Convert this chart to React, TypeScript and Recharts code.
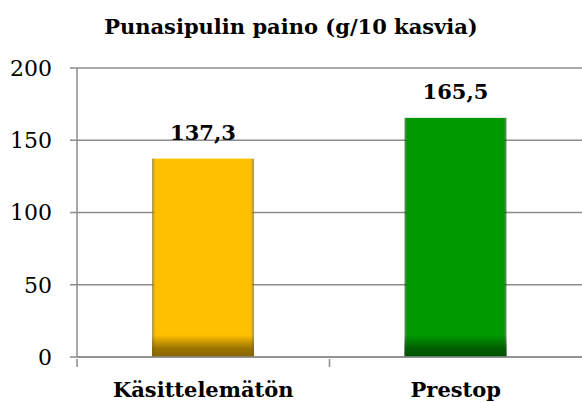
import { Bar, BarChart, CartesianGrid, LabelList, XAxis, YAxis } from "recharts";

const categories = ["Käsittelemätön", "Prestop"];
const weights = [137.3, 165.5];
const barColors = ["#FFC000", "#009A00"];
const shadeColors = ["#7A5A00", "#004A00"];
const yTicks = [0, 50, 100, 150, 200];

const data = categories.map((name, i) => ({ name, value: weights[i], idx: i }));

const FONT = "'DejaVu Serif', serif";
const GRID = "#8C8C8C";

function ShadedBar(props: any) {
  const { x, y, width, height, payload } = props;
  const i = payload.idx;
  const shadeH = Math.min(22, height);
  return (
    <g>
      <rect x={x} y={y} width={width} height={height} fill={`url(#side${i})`} />
      <rect x={x} y={y + height - shadeH} width={width} height={shadeH} fill={`url(#bottom${i})`} />
    </g>
  );
}

function CategoryTick(props: any) {
  const { x, y, payload } = props;
  const half = payload.offset ?? 0;
  return (
    <g>
      <line x1={x - half} x2={x - half} y1={y - 8} y2={y} stroke={GRID} strokeWidth={1.5} />
      <text x={x} y={y + 30} textAnchor="middle" fontFamily={FONT} fontWeight="bold" fontSize={21} fill="#000">
        {payload.value}
      </text>
    </g>
  );
}

function ValueLabel(props: any) {
  const { x, y, width, value } = props;
  return (
    <text x={x + width / 2} y={y - 19} textAnchor="middle" fontFamily={FONT} fontWeight="bold" fontSize={21} fill="#000">
      {String(value).replace(".", ",")}
    </text>
  );
}

export default function App() {
  return (
    <div style={{ position: "relative", width: 582, height: 402, background: "#fff" }}>
      <style>{`body{margin:0}`}</style>
      <div
        style={{
          position: "absolute",
          top: 14,
          left: 0,
          width: 582,
          textAlign: "center",
          fontFamily: FONT,
          fontWeight: "bold",
          fontSize: 21,
          color: "#000",
        }}
      >
        Punasipulin paino (g/10 kasvia)
      </div>
      <BarChart
        width={582}
        height={402}
        data={data}
        margin={{ top: 68, right: 0, left: 0, bottom: 15 }}
        barSize={102}
      >
        <defs>
          {barColors.map((c, i) => (
            <linearGradient key={`s${i}`} id={`side${i}`} x1="0" y1="0" x2="1" y2="0">
              <stop offset="0" stopColor={shadeColors[i]} stopOpacity={0.6} />
              <stop offset="0.03" stopColor={c} />
              <stop offset="0.97" stopColor={c} />
              <stop offset="1" stopColor={shadeColors[i]} stopOpacity={0.6} />
            </linearGradient>
          ))}
          {shadeColors.map((c, i) => (
            <linearGradient key={`b${i}`} id={`bottom${i}`} x1="0" y1="0" x2="0" y2="1">
              <stop offset="0" stopColor={c} stopOpacity={0} />
              <stop offset="0.6" stopColor={c} stopOpacity={0.75} />
              <stop offset="1" stopColor={c} stopOpacity={0.9} />
            </linearGradient>
          ))}
        </defs>
        <CartesianGrid vertical={false} stroke={GRID} strokeWidth={1.5} />
        <XAxis
          dataKey="name"
          height={30}
          axisLine={{ stroke: GRID, strokeWidth: 1.5 }}
          tickLine={false}
          tickSize={8}
          tick={<CategoryTick />}
          interval={0}
        />
        <YAxis
          width={77}
          domain={[0, 200]}
          ticks={yTicks}
          interval={0}
          axisLine={{ stroke: GRID, strokeWidth: 1.5 }}
          tickLine={{ stroke: GRID, strokeWidth: 1.5 }}
          tickSize={7}
          tickMargin={18}
          tick={{ fontFamily: FONT, fontSize: 22, fill: "#000" }}
        />
        <Bar dataKey="value" shape={<ShadedBar />} isAnimationActive={false}>
          <LabelList dataKey="value" content={<ValueLabel />} />
        </Bar>
      </BarChart>
    </div>
  );
}
